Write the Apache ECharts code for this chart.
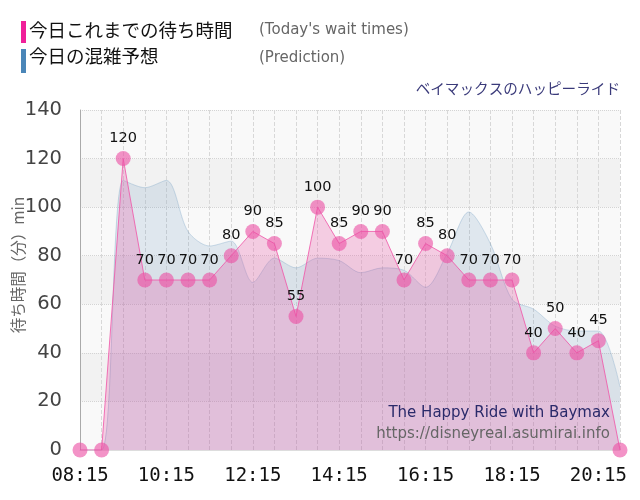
<!DOCTYPE html>
<html><head><meta charset="utf-8">
<script src="https://cdn.jsdelivr.net/npm/echarts@6/dist/echarts.min.js"></script>
<style>html,body{margin:0;padding:0;background:#fff}#c{width:640px;height:500px}</style>
</head><body><div id="c"></div>
<script>
const times = ['08:15','08:45','09:15','09:45','10:15','10:45','11:15','11:45','12:15','12:45','13:15','13:45','14:15','14:45','15:15','15:45','16:15','16:45','17:15','17:45','18:15','18:45','19:15','19:45','20:15','20:45'];
const waitTimes = [0,0,120,70,70,70,70,80,90,85,55,100,85,90,90,70,85,80,70,70,70,40,50,40,45,0];
const prediction = [0,0,111,108,111,90,84,86,69,79,75,79,78,73,75,74,67,81,98,85,62,58,51,49,49,26];
const yTicks = [0,20,40,60,80,100,120,140];

const JP = '"Noto Sans CJK JP", sans-serif';
const DV = '"DejaVu Sans", sans-serif';
const chart = echarts.init(document.getElementById('c'), null, {renderer:'canvas'});
chart.setOption({
  animation:false,
  backgroundColor:'#fff',
  grid:{left:80,right:20,top:110,bottom:50,containLabel:false},
  xAxis:{
    type:'category', data:times, boundaryGap:false,
    axisLine:{show:true,lineStyle:{color:'#ddd'}},
    axisTick:{show:false},
    axisLabel:{interval:3,color:'#111',fontSize:19,fontFamily:'"DejaVu Sans Mono", monospace',margin:17},
    splitLine:{show:true,interval:0,lineStyle:{color:'#d8d8d8',type:'dashed'}}
  },
  yAxis:{
    type:'value', min:yTicks[0], max:yTicks[yTicks.length-1], interval:20,
    axisLine:{show:true,lineStyle:{color:'#aaa'}},
    axisTick:{show:false},
    axisLabel:{color:'#444',fontSize:19.5,fontFamily:DV,margin:18},
    splitLine:{show:true,lineStyle:{color:'#d4d4d4',type:'dotted'}},
    splitArea:{show:true,areaStyle:{color:['#f9f9f9','#f2f2f2']}}
  },
  series:[
    {
      name:'今日の混雑予想', type:'line', data:prediction, smooth:0.3,
      symbol:'none', z:2,
      lineStyle:{color:'rgba(70,130,180,0.25)',width:1},
      areaStyle:{color:'rgba(70,130,180,0.2)'}
    },
    {
      name:'今日これまでの待ち時間', type:'line', data:waitTimes, smooth:false,
      symbol:'circle', symbolSize:15, showSymbol:true, showAllSymbol:true, z:3,
      itemStyle:{color:'rgba(236,80,165,0.62)'},
      lineStyle:{color:'rgba(240,90,170,0.85)',width:1},
      areaStyle:{color:'rgba(230,70,160,0.36)'},
      label:{show:true,position:'top',distance:5,color:'#111',fontSize:14.5,fontFamily:DV,
        formatter:p=>p.value===0?'':String(p.value)},
      labelLayout:{hideOverlap:false}
    }
  ],
  graphic:[
    {type:'rect',left:21,top:21,shape:{width:5,height:22},style:{fill:'#f0209a'}},
    {type:'text',left:29,top:21,style:{text:'今日これまでの待ち時間',fill:'#111',fontSize:18.5,fontFamily:JP}},
    {type:'text',left:259,top:23,style:{text:"(Today's wait times)",fill:'#666',fontSize:15,fontFamily:DV}},
    {type:'rect',left:21,top:49,shape:{width:5,height:24},style:{fill:'#4a86b8'}},
    {type:'text',left:29,top:47,style:{text:'今日の混雑予想',fill:'#111',fontSize:18.5,fontFamily:JP}},
    {type:'text',left:259,top:51,style:{text:'(Prediction)',fill:'#666',fontSize:15,fontFamily:DV}},
    {type:'text',right:20,top:81,style:{text:'ベイマックスのハッピーライド',fill:'#3a3a7a',fontSize:14.6,fontFamily:JP}},
    {type:'text',x:18,y:265,rotation:Math.PI/2,style:{text:'待ち時間（分）min',fill:'#666',fontSize:15.5,fontFamily:JP,align:'center',verticalAlign:'middle'}},
    {type:'text',right:30,top:406,z:10,style:{text:'The Happy Ride with Baymax',fill:'#2a2a6a',fontSize:15,fontFamily:DV}},
    {type:'text',right:30,top:427,z:10,style:{text:'https://disneyreal.asumirai.info',fill:'#666',fontSize:15,fontFamily:DV}}
  ]
});
</script></body></html>
